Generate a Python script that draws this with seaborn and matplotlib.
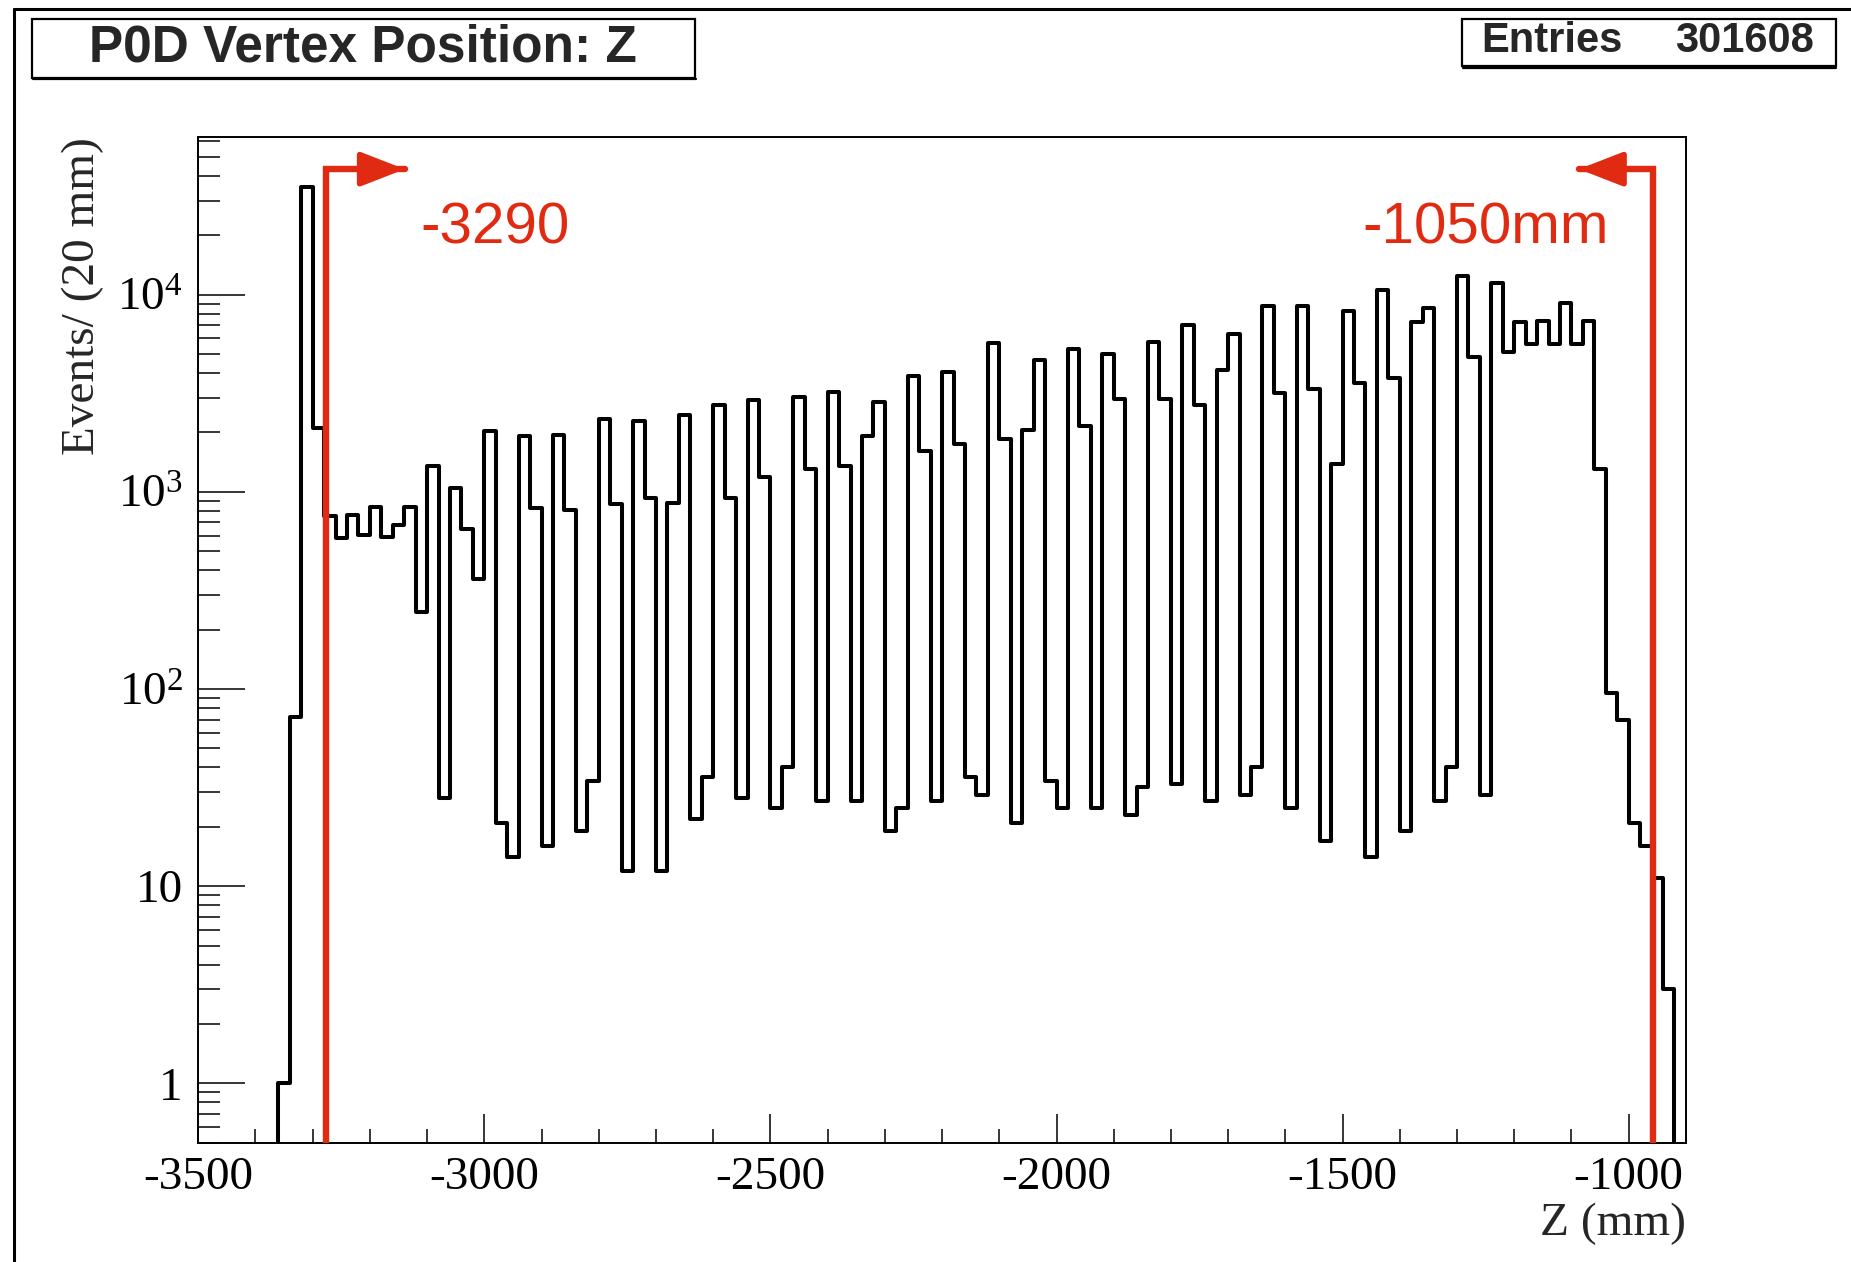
import numpy as np
import pandas as pd
import matplotlib
matplotlib.use("Agg")
import matplotlib.pyplot as plt
import seaborn as sns
from matplotlib.ticker import FixedLocator, LogLocator, NullFormatter, FixedFormatter
from matplotlib.patches import Rectangle
from matplotlib.lines import Line2D

# ---------------- data ----------------
bin_low = -3500
bin_high = -900
bin_width = 20
events = [
    0, 0, 0, 0, 0, 0, 0, 1, 72, 35000,
    2100, 750, 584, 764, 607, 838, 593, 681, 838, 247,
    1360, 28, 1050, 645, 360, 2030, 21, 14, 1920, 826,
    16, 1950, 807, 19, 34, 2330, 870, 12, 2300, 926,
    12, 878, 2450, 22, 36, 2760, 926, 28, 2930, 1190,
    25, 40, 3020, 1310, 27, 3210, 1360, 27, 1920, 2860,
    19, 25, 3890, 1620, 27, 4040, 1740, 36, 29, 5710,
    1850, 21, 2070, 4640, 34, 25, 5290, 2150, 25, 5010,
    2970, 23, 32, 5750, 2970, 33, 7030, 2750, 27, 4140,
    6310, 29, 40, 8710, 3160, 25, 8710, 3340, 17, 1380,
    8260, 3550, 14, 10550, 3770, 19, 7240, 8570, 27, 40,
    12400, 4820, 29, 11500, 5090, 7240, 5620, 7360, 5620, 9050,
    5620, 7360, 1310, 96, 70, 21, 16, 11, 3, 0,
]
x_ticks = [-3500, -3000, -2500, -2000, -1500, -1000]
x_tick_labels = ["-3500", "-3000", "-2500", "-2000", "-1500", "-1000"]
y_ticks = [1, 10, 100, 1000, 10000]
y_tick_labels = ["1", "10", r"$\mathregular{10^{2}}$", r"$\mathregular{10^{3}}$", r"$\mathregular{10^{4}}$"]
title = "P0D Vertex Position: Z"
entries_label = "Entries"
entries_value = "301608"
x_label = "Z (mm)"
y_label = "Events/ (20 mm)"
cut_labels = ["-3290", "-1050mm"]
cut_lines_z = [-3277, -958]
cut_arrow_tips = [-3139, -1087]
cut_top = 43300
cut_label_pos = [(-2982, 21700), (-1250, 21700)]

n_bins = len(events)
centers = [bin_low + bin_width * (i + 0.5) for i in range(n_bins)]
df = pd.DataFrame({"z": centers, "n": events})

# ---------------- style ----------------
sns.set_style("ticks")
plt.rcParams["font.family"] = ["Liberation Serif", "DejaVu Serif"]
plt.rcParams["mathtext.fontset"] = "custom"
plt.rcParams["mathtext.rm"] = "Liberation Serif"
plt.rcParams["axes.unicode_minus"] = False
sans = ["Liberation Sans", "DejaVu Sans"]
red = "#E12A12"

fig = plt.figure(figsize=(18.51, 12.62), dpi=100)
fig.patch.set_facecolor("white")
ax = fig.add_axes([0.1071, 0.0945, 0.8037, 0.7969])

sns.histplot(data=df, x="z", weights="n", binwidth=bin_width,
             binrange=(bin_low, bin_high), element="step",
             fill=False, color="black", linewidth=2.9, ax=ax)
ax.set_yscale("log")
ax.set_xlim(bin_low, bin_high)
ax.set_ylim(0.5, 6.3e4)
ax.set_xlabel("")
ax.set_ylabel("")

# ticks
ax.xaxis.set_major_locator(FixedLocator(x_ticks))
ax.xaxis.set_major_formatter(FixedFormatter(x_tick_labels))
ax.xaxis.set_minor_locator(FixedLocator(np.arange(-3500, -900, 100)))
ax.yaxis.set_major_locator(FixedLocator(y_ticks))
ax.yaxis.set_major_formatter(FixedFormatter(y_tick_labels))
ax.yaxis.set_minor_locator(LogLocator(base=10, subs=np.arange(2, 10)))
ax.yaxis.set_minor_formatter(NullFormatter())
ax.tick_params(axis="both", which="both", direction="in", top=False, right=False,
               width=1.1, colors="black")
ax.tick_params(axis="x", which="major", length=21, pad=10, labelsize=34)
ax.tick_params(axis="x", which="minor", length=10)
ax.tick_params(axis="y", which="major", length=34, pad=11, labelsize=34)
ax.tick_params(axis="y", which="minor", length=16)
for s in ax.spines.values():
    s.set_linewidth(1.4)
    s.set_color("black")

# axis titles
fig.text(0.9108, 0.030, x_label, ha="right", va="center", fontsize=34)
fig.text(0.0446, 0.8914, y_label, ha="center", va="top", rotation=90, fontsize=34)

# cut annotations
for zl, tip in zip(cut_lines_z, cut_arrow_tips):
    ax.plot([zl, zl, tip], [0.5, cut_top, cut_top], color=red, lw=4.6,
            solid_joinstyle="miter", zorder=5)
    ax.annotate("", xy=(tip, cut_top), xytext=(zl, cut_top),
                arrowprops=dict(arrowstyle="-|>,head_length=0.9,head_width=0.35",
                                color=red, lw=4.0, mutation_scale=30,
                                shrinkA=0, shrinkB=0), zorder=6)
for lab, (lx, ly) in zip(cut_labels, cut_label_pos):
    ax.text(lx, ly, lab, color=red, fontsize=42, ha="center", va="center",
            family=sans)

# title box
fig.add_artist(Rectangle((0.01723, 0.9383), 0.3584, 0.0467, transform=fig.transFigure,
                         fill=False, lw=1.6, edgecolor="black"))
fig.add_artist(Line2D([0.0180, 0.3760], [0.9372, 0.9372], transform=fig.transFigure,
                      lw=1.6, color="black"))
fig.text(0.196, 0.9617, title, ha="center", va="center", fontsize=37,
         fontweight="bold", family=sans)

# entries box
fig.add_artist(Rectangle((0.7896, 0.9476), 0.2021, 0.0374, transform=fig.transFigure,
                         fill=False, lw=1.6, edgecolor="black"))
fig.add_artist(Line2D([0.7903, 0.9921], [0.9465, 0.9465], transform=fig.transFigure,
                      lw=1.6, color="black"))
fig.text(0.8004, 0.9673, entries_label, ha="left", va="center", fontsize=30,
         fontweight="bold", family=sans)
fig.text(0.9802, 0.9673, entries_value, ha="right", va="center", fontsize=30,
         fontweight="bold", family=sans)

# outer frame
fig.add_artist(Line2D([0.0076, 0.0076], [0.0, 0.9925], transform=fig.transFigure,
                      lw=2.2, color="black"))
fig.add_artist(Line2D([0.0076, 1.0], [0.9925, 0.9925], transform=fig.transFigure,
                      lw=2.2, color="black"))

fig.savefig("out.png", dpi=100)
